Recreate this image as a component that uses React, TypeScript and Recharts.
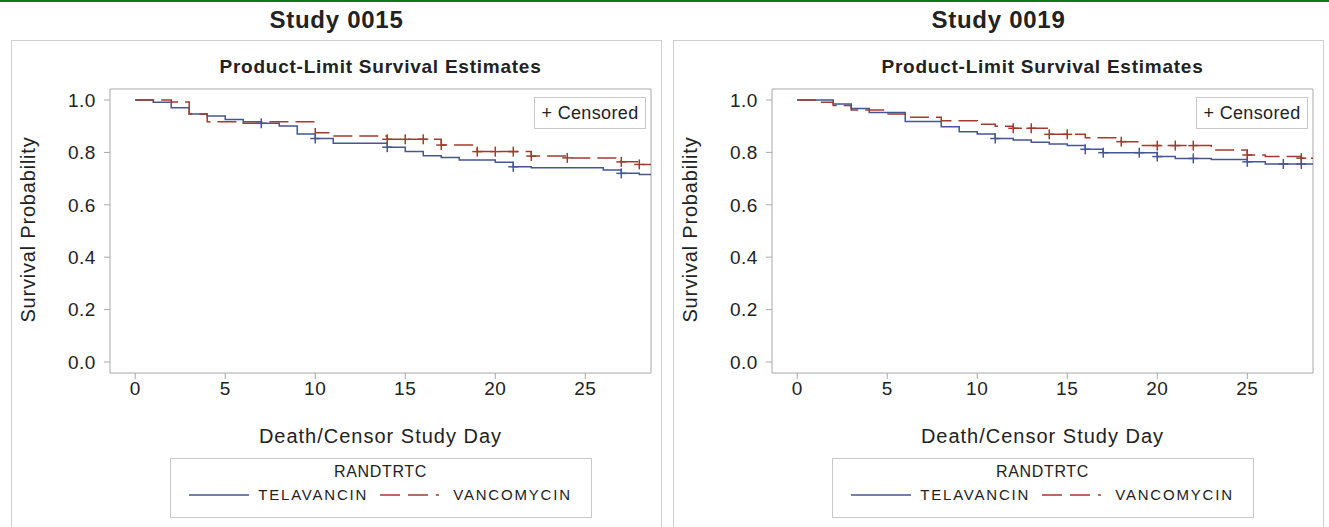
import React from "react";
import { ComposedChart, Line, Scatter, XAxis, YAxis, ReferenceArea } from "recharts";

const BLUE = "#445694";
const RED = "#A23A2E";
const FRAME = "#a8a8a8";
const FONT = "'Liberation Sans', Arial, sans-serif";

const X_TICKS = [0, 5, 10, 15, 20, 25];
const Y_TICKS = [0, 0.2, 0.4, 0.6, 0.8, 1.0];
const X_DOMAIN: [number, number] = [-1.4, 28.65];
const Y_DOMAIN: [number, number] = [-0.042, 1.042];
const LAST_DAY = 29;

// Study 0015
const tela15Steps = [
  [0, 1.0], [1, 0.991], [2, 0.97], [3, 0.947], [4, 0.939], [5, 0.926], [6, 0.911], [8, 0.901],
  [9, 0.87], [10, 0.853], [11, 0.835], [14, 0.82], [15, 0.803], [16, 0.787], [17, 0.781],
  [18, 0.771], [20, 0.762], [21, 0.745], [22, 0.741], [26, 0.733], [27, 0.72], [28, 0.716],
];
const tela15Censor = [[7, 0.911], [10, 0.853], [14, 0.82], [21, 0.745], [27, 0.72]];
const vanc15Steps = [
  [0, 1.0], [2, 0.992], [3, 0.947], [4, 0.917], [10, 0.875], [11, 0.863], [14, 0.85],
  [17, 0.828], [19, 0.803], [22, 0.786], [24, 0.779], [27, 0.764], [28, 0.754],
];
const vanc15Censor = [
  [14, 0.85], [15, 0.85], [16, 0.85], [17, 0.828], [19, 0.803], [20, 0.803], [21, 0.803],
  [22, 0.786], [24, 0.779], [27, 0.764], [28, 0.754],
];

// Study 0019
const tela19Steps = [
  [0, 1.0], [2, 0.985], [3, 0.968], [4, 0.952], [6, 0.918], [8, 0.898], [9, 0.879], [10, 0.87],
  [11, 0.853], [12, 0.847], [13, 0.839], [14, 0.832], [15, 0.826], [16, 0.812], [17, 0.799],
  [20, 0.784], [21, 0.777], [23, 0.773], [25, 0.764], [26, 0.756],
];
const tela19Censor = [
  [11, 0.853], [16, 0.812], [17, 0.799], [19, 0.799], [20, 0.784], [22, 0.777], [25, 0.764],
  [27, 0.756], [28, 0.756],
];
const vanc19Steps = [
  [0, 1.0], [1, 0.991], [2, 0.979], [3, 0.962], [5, 0.947], [6, 0.934], [8, 0.921], [10, 0.907],
  [11, 0.9], [12, 0.892], [14, 0.869], [16, 0.856], [18, 0.841], [19, 0.826], [23, 0.809],
  [25, 0.79], [26, 0.784], [28, 0.778],
];
const vanc19Censor = [
  [12, 0.892], [13, 0.892], [14, 0.869], [15, 0.869], [18, 0.841], [20, 0.826], [21, 0.826],
  [22, 0.826], [25, 0.79], [28, 0.778],
];

const toPoints = (arr: number[][]) => arr.map(([t, s]) => ({ t, s }));
const toCurve = (arr: number[][]) => {
  const pts = toPoints(arr);
  return [...pts, { t: LAST_DAY, s: pts[pts.length - 1].s }];
};

const Plus = (color: string) => (props: any) => {
  const { cx, cy } = props;
  if (cx == null || cy == null) return null;
  return (
    <g stroke={color} strokeWidth={1.5}>
      <line x1={cx - 5} y1={cy} x2={cx + 5} y2={cy} />
      <line x1={cx} y1={cy - 5} x2={cx} y2={cy + 5} />
    </g>
  );
};

const tickStyle = { fill: "#222", fontSize: 19, fontFamily: FONT, letterSpacing: "0.03em" };

interface PanelProps {
  left: number;
  title: string;
  tela: number[][];
  telaCensor: number[][];
  vanc: number[][];
  vancCensor: number[][];
}

function Panel({ left, title, tela, telaCensor, vanc, vancCensor }: PanelProps) {
  const plotLeft = left + 99;
  const plotW = 541;
  const center = plotLeft + plotW / 2;
  const text = { position: "absolute" as const, fontFamily: FONT, color: "#222", whiteSpace: "nowrap" as const };
  return (
    <>
      <div style={{ ...text, left, width: 651, top: 6, textAlign: "center", fontWeight: "bold", fontSize: 24, letterSpacing: "0.03em" }}>{title}</div>
      <div style={{ position: "absolute", left, top: 40, width: 649, height: 500, border: "1px solid #cfcfcf" }} />
      <div style={{ ...text, left: plotLeft, width: plotW, top: 56, textAlign: "center", fontWeight: "bold", fontSize: 19, letterSpacing: "0.04em" }}>
        Product-Limit Survival Estimates
      </div>
      <div style={{ position: "absolute", left, top: 40 }}>
        <ComposedChart width={650} height={487} margin={{ top: 49, right: 10, left: 39, bottom: 124 }}>
          <XAxis
            dataKey="t"
            type="number"
            domain={X_DOMAIN}
            ticks={X_TICKS}
            allowDataOverflow
            axisLine={false}
            tickLine={{ stroke: FRAME }}
            tickSize={6}
            tickMargin={3}
            height={30}
            tick={tickStyle}
          />
          <YAxis
            dataKey="s"
            type="number"
            domain={Y_DOMAIN}
            ticks={Y_TICKS}
            allowDataOverflow
            axisLine={false}
            tickLine={{ stroke: FRAME }}
            tickSize={6}
            tickMargin={8}
            width={60}
            tickFormatter={(v: number) => v.toFixed(1)}
            tick={tickStyle}
          />
          <ReferenceArea x1={X_DOMAIN[0]} x2={X_DOMAIN[1]} y1={Y_DOMAIN[0]} y2={Y_DOMAIN[1]} fill="none" stroke={FRAME} fillOpacity={0} />
          <Line data={toCurve(tela)} dataKey="s" type="stepAfter" stroke={BLUE} strokeWidth={1.5} dot={false} isAnimationActive={false} />
          <Line data={toCurve(vanc)} dataKey="s" type="stepAfter" stroke={RED} strokeWidth={1.5} strokeDasharray="19 7" dot={false} isAnimationActive={false} />
          <Scatter data={toPoints(telaCensor)} dataKey="s" shape={Plus(BLUE)} isAnimationActive={false} />
          <Scatter data={toPoints(vancCensor)} dataKey="s" shape={Plus(RED)} isAnimationActive={false} />
        </ComposedChart>
      </div>
      <div style={{ ...text, left: plotLeft + 424, top: 97, width: 110, height: 30, border: "1px solid #c8c8c8", background: "#fff", fontSize: 18, lineHeight: "30px", textAlign: "center", letterSpacing: "0.02em" }}>
        + Censored
      </div>
      <div style={{ ...text, left: left + 17, top: 230, width: 0, height: 0 }}>
        <div style={{ position: "absolute", left: -120, top: -12, width: 240, textAlign: "center", fontSize: 20, letterSpacing: "0.04em", transform: "rotate(-90deg)" }}>
          Survival Probability
        </div>
      </div>
      <div style={{ ...text, left: plotLeft, width: plotW, top: 425, textAlign: "center", fontSize: 20, letterSpacing: "0.05em" }}>Death/Censor Study Day</div>
      <div style={{ position: "absolute", left: center - 211, top: 458, width: 420, height: 58, border: "1px solid #c8c8c8", fontFamily: FONT, color: "#222" }}>
        <div style={{ textAlign: "center", fontSize: 16, marginTop: 4, letterSpacing: "0.04em" }}>RANDTRTC</div>
        <div style={{ display: "flex", alignItems: "center", justifyContent: "center", marginTop: 5, fontSize: 15, letterSpacing: "0.12em" }}>
          <svg width={60} height={4}>
            <line x1={0} y1={2} x2={60} y2={2} stroke={BLUE} strokeWidth={1.5} />
          </svg>
          <span style={{ marginLeft: 9, marginRight: 12 }}>TELAVANCIN</span>
          <svg width={66} height={4}>
            <line x1={0} y1={2} x2={66} y2={2} stroke={RED} strokeWidth={1.5} strokeDasharray="20 8 20 8 3 7" />
          </svg>
          <span style={{ marginLeft: 7 }}>VANCOMYCIN</span>
        </div>
      </div>
    </>
  );
}

export default function App() {
  return (
    <div style={{ position: "absolute", left: 0, top: 0, width: 1329, height: 527, background: "#fff", overflow: "hidden" }}>
      <div style={{ position: "absolute", left: 0, top: 0, width: 1329, height: 2, background: "#0b7d0b" }} />
      <Panel left={11} title="Study 0015" tela={tela15Steps} telaCensor={tela15Censor} vanc={vanc15Steps} vancCensor={vanc15Censor} />
      <Panel left={673} title="Study 0019" tela={tela19Steps} telaCensor={tela19Censor} vanc={vanc19Steps} vancCensor={vanc19Censor} />
    </div>
  );
}
